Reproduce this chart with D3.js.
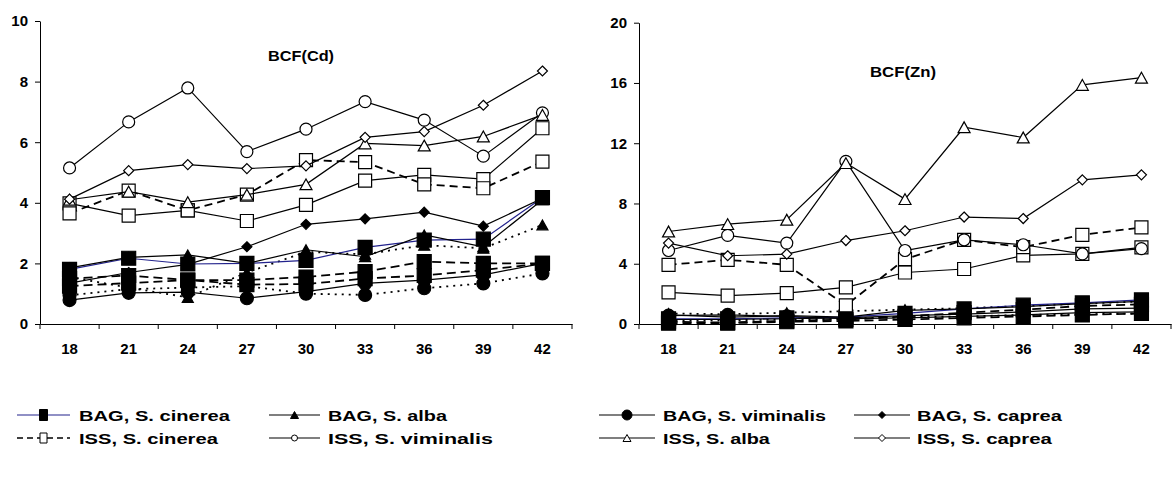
<!DOCTYPE html>
<html>
<head>
<meta charset="utf-8">
<script src="https://cdn.jsdelivr.net/npm/d3@7"></script>
<style>
  body { margin: 0; background: #fff; }
  text { font-family: "Liberation Sans", Arial, sans-serif; font-weight: bold; fill: #000; }
</style>
</head>
<body>
<svg id="chart" width="1172" height="480"></svg>
<script>
// Sampling days (category axis)
const sampleDays = ["18", "21", "24", "27", "30", "33", "36", "39", "42"];
const cdTicks = [0, 2, 4, 6, 8, 10];
const znTicks = [0, 4, 8, 12, 16, 20];

// BCF(Cd)
const cdBagCinerea   = [1.80, 2.17, 1.98, 2.00, 2.10, 2.53, 2.77, 2.80, 4.17];
const cdBagAlba      = [1.85, 2.20, 2.28, 2.00, 2.45, 2.22, 2.94, 2.55, 4.10];
const cdBagViminalis = [0.79, 1.03, 1.05, 0.85, 1.07, 1.34, 1.45, 1.62, 2.00];
const cdBagCaprea    = [1.35, 1.70, 1.97, 2.55, 3.29, 3.47, 3.69, 3.23, 4.15];
const cdIssCinerea   = [3.65, 4.40, 3.75, 4.27, 5.41, 5.34, 4.61, 4.48, 5.36];
const cdIssViminalis = [5.15, 6.67, 7.79, 5.69, 6.43, 7.34, 6.73, 5.54, 6.97];
const cdIssAlba      = [4.10, 4.37, 4.02, 4.27, 4.61, 5.96, 5.89, 6.19, 6.90];
const cdIssCaprea    = [4.12, 5.06, 5.26, 5.13, 5.22, 6.16, 6.35, 7.22, 8.35];
// further series without legend entries
const cdOpenSquareSolid   = [3.98, 3.58, 3.75, 3.40, 3.93, 4.73, 4.92, 4.78, 6.46];
const cdBlackSquareDashA  = [1.50, 1.60, 1.45, 1.45, 1.55, 1.73, 2.06, 2.00, 2.00];
const cdBlackSquareDashB  = [1.25, 1.35, 1.45, 1.30, 1.32, 1.50, 1.60, 1.78, 2.00];
const cdBlackTriDotted    = [1.55, 1.20, 0.88, 1.70, 2.38, 2.30, 2.60, 2.50, 3.27];
const cdBlackCircleDotted = [0.95, 1.15, 1.20, 1.25, 1.00, 0.96, 1.18, 1.34, 1.67];

// BCF(Zn)
const znBagCinerea   = [0.35, 0.35, 0.40, 0.45, 0.70, 1.00, 1.25, 1.40, 1.60];
const znBagAlba      = [0.60, 0.45, 0.55, 0.45, 0.90, 1.00, 1.15, 1.35, 1.50];
const znBagViminalis = [0.55, 0.60, 0.50, 0.35, 0.40, 0.50, 0.60, 0.75, 0.80];
const znBagCaprea    = [0.30, 0.30, 0.35, 0.40, 0.55, 0.65, 0.80, 1.00, 1.05];
const znIssCinerea   = [3.93, 4.26, 3.93, 1.24, 4.30, 5.59, 5.10, 5.92, 6.41];
const znIssViminalis = [4.88, 5.88, 5.37, 10.80, 4.88, 5.59, 5.26, 4.65, 5.00];
const znIssAlba      = [6.14, 6.63, 6.92, 10.68, 8.29, 13.06, 12.38, 15.87, 16.35];
const znIssCaprea    = [5.37, 4.53, 4.64, 5.54, 6.19, 7.10, 7.00, 9.57, 9.90];
const znOpenSquareSolid   = [2.10, 1.88, 2.05, 2.43, 3.42, 3.65, 4.55, 4.66, 5.08];
const znBlackSquareDashA  = [0.15, 0.10, 0.20, 0.30, 0.50, 0.75, 0.95, 1.20, 1.30];
const znBlackSquareDashB  = [0.05, 0.05, 0.15, 0.20, 0.30, 0.40, 0.50, 0.60, 0.70];
const znBlackTriDotted    = [0.70, 0.65, 0.75, 0.85, 0.95, 1.05, 1.20, 1.35, 1.50];
const znBlackCircleDotted = [0.20, 0.25, 0.30, 0.35, 0.45, 0.50, 0.60, 0.65, 0.70];

const legendLabels = [
  "BAG, S. cinerea", "BAG, S. alba", "BAG, S. viminalis", "BAG, S. caprea",
  "ISS, S. cinerea", "ISS, S. viminalis", "ISS, S. alba", "ISS, S. caprea"
];

// ---- styles ----
const NAVY = "#22228c";
const style = {
  bagCinerea:   { stroke: NAVY,   width: 1.2, dash: null,  marker: "square",   fill: "#000", size: 14, lsize: [8, 11] },
  bagAlba:      { stroke: "#000", width: 1.2, dash: null,  marker: "triangle", fill: "#000", size: 11, lsize: [8, 7] },
  bagViminalis: { stroke: "#000", width: 1.2, dash: null,  marker: "circle",   fill: "#000", size: 13, lsize: [10, 10] },
  bagCaprea:    { stroke: "#000", width: 1.2, dash: null,  marker: "diamond",  fill: "#000", size: 10, lsize: [7, 7] },
  issCinerea:   { stroke: "#000", width: 1.8, dash: "8,5", marker: "square",   fill: "#fff", size: 13, lsize: [7, 10] },
  issViminalis: { stroke: "#000", width: 1.2, dash: null,  marker: "circle",   fill: "#fff", size: 12, lsize: [6, 6] },
  issAlba:      { stroke: "#000", width: 1.2, dash: null,  marker: "triangle", fill: "#fff", size: 12, lsize: [8, 7] },
  issCaprea:    { stroke: "#000", width: 1.2, dash: null,  marker: "diamond",  fill: "#fff", size: 10, lsize: [7, 7] },
  openSqSolid:  { stroke: "#000", width: 1.2, dash: null,  marker: "square",   fill: "#fff", size: 13 },
  blkSqDashA:   { stroke: "#000", width: 1.8, dash: "9,5", marker: "square",   fill: "#000", size: 14 },
  blkSqDashB:   { stroke: "#000", width: 1.8, dash: "9,5", marker: "square",   fill: "#000", size: 14 },
  blkTriDot:    { stroke: "#000", width: 1.8, dash: "2,5", marker: "triangle", fill: "#000", size: 11 },
  blkCircDot:   { stroke: "#000", width: 1.8, dash: "2,5", marker: "circle",   fill: "#000", size: 13 }
};

const panels = [
  {
    title: "BCF(Cd)", titleX: 301, titleY: 61,
    x0: 40, x1: 572, yTop: 21, yBottom: 324, ticks: cdTicks, max: 10,
    series: [
      [cdOpenSquareSolid, "openSqSolid"], [cdBlackSquareDashA, "blkSqDashA"], [cdBlackSquareDashB, "blkSqDashB"],
      [cdBlackTriDotted, "blkTriDot"], [cdBlackCircleDotted, "blkCircDot"],
      [cdBagCinerea, "bagCinerea"], [cdBagAlba, "bagAlba"], [cdBagViminalis, "bagViminalis"], [cdBagCaprea, "bagCaprea"],
      [cdIssCinerea, "issCinerea"], [cdIssViminalis, "issViminalis"], [cdIssAlba, "issAlba"], [cdIssCaprea, "issCaprea"]
    ]
  },
  {
    title: "BCF(Zn)", titleX: 903, titleY: 77,
    x0: 639, x1: 1171, yTop: 22.7, yBottom: 324, ticks: znTicks, max: 20,
    series: [
      [znOpenSquareSolid, "openSqSolid"], [znBlackSquareDashA, "blkSqDashA"], [znBlackSquareDashB, "blkSqDashB"],
      [znBlackTriDotted, "blkTriDot"], [znBlackCircleDotted, "blkCircDot"],
      [znBagCinerea, "bagCinerea"], [znBagAlba, "bagAlba"], [znBagViminalis, "bagViminalis"], [znBagCaprea, "bagCaprea"],
      [znIssCinerea, "issCinerea"], [znIssViminalis, "issViminalis"], [znIssAlba, "issAlba"], [znIssCaprea, "issCaprea"]
    ]
  }
];

const svg = d3.select("#chart");
const FONT = "'Liberation Sans', Arial, sans-serif";

// marker path centred at origin, w x h box
function markerPath(kind, w, h) {
  if (kind === "square") return `M${-w/2},${-h/2}h${w}v${h}h${-w}Z`;
  if (kind === "diamond") return `M0,${-h/2}L${w/2},0L0,${h/2}L${-w/2},0Z`;
  if (kind === "triangle") return `M0,${-h/2}L${w/2},${h/2}L${-w/2},${h/2}Z`;
  return `M${-w/2},0a${w/2},${h/2} 0 1,0 ${w},0a${w/2},${h/2} 0 1,0 ${-w},0Z`;
}
function markerDims(st) {
  const s = st.size;
  if (st.marker === "triangle") return [s, s * 0.9];
  return [s, s];
}

panels.forEach(p => {
  const x = d3.scaleBand().domain(sampleDays).range([p.x0, p.x1]).padding(0);
  const y = d3.scaleLinear().domain([0, p.max]).range([p.yBottom, p.yTop]);
  const g = svg.append("g");

  // y axis
  const yAxis = g.append("g").attr("transform", `translate(${p.x0},0)`)
    .call(d3.axisLeft(y).tickValues(p.ticks).tickSize(5).tickSizeOuter(0).tickPadding(7));
  yAxis.selectAll("text").style("font-size", "15px").style("font-family", FONT).style("font-weight", "bold").attr("fill", "#000");
  yAxis.selectAll("line, path").attr("stroke", "#000").attr("stroke-width", 1);

  // x axis: labels centred on categories, ticks on category boundaries
  const xAxis = g.append("g").attr("transform", `translate(0,${p.yBottom})`)
    .call(d3.axisBottom(x).tickSize(0).tickPadding(19));
  xAxis.selectAll("text").style("font-size", "15px").style("font-family", FONT).style("font-weight", "bold").attr("fill", "#000");
  xAxis.select(".domain").attr("stroke", "#000").attr("stroke-width", 1);
  const bounds = sampleDays.map(d => x(d)).concat([x(sampleDays[sampleDays.length - 1]) + x.bandwidth()]);
  g.append("g").selectAll("line").data(bounds).join("line")
    .attr("x1", d => d).attr("x2", d => d)
    .attr("y1", p.yBottom).attr("y2", p.yBottom + 5)
    .attr("stroke", "#000").attr("stroke-width", 1);

  // title
  g.append("text").attr("x", p.titleX).attr("y", p.titleY)
    .attr("text-anchor", "middle").style("font-size", "15.5px")
    .attr("textLength", 66).attr("lengthAdjust", "spacingAndGlyphs")
    .text(p.title);

  const line = d3.line().x((d, i) => x(sampleDays[i]) + x.bandwidth() / 2).y(d => y(d));

  p.series.forEach(([vals, key]) => {
    const st = style[key];
    g.append("path").datum(vals)
      .attr("d", line).attr("fill", "none")
      .attr("stroke", st.stroke).attr("stroke-width", st.width)
      .attr("stroke-dasharray", st.dash);
    const [w, h] = markerDims(st);
    g.append("g").selectAll("path").data(vals).join("path")
      .attr("transform", (d, i) => `translate(${x(sampleDays[i]) + x.bandwidth() / 2},${y(d)})`)
      .attr("d", markerPath(st.marker, w, h))
      .attr("fill", st.fill).attr("stroke", "#000").attr("stroke-width", 1.2);
  });
});

// legend
const legendKeys = ["bagCinerea", "bagAlba", "bagViminalis", "bagCaprea", "issCinerea", "issViminalis", "issAlba", "issCaprea"];
const legendCols = [[17, 70, 79], [269, 320, 328], [599, 655, 663], [854, 910, 917]];
const legendRows = [415, 438];
const legendWidths = [151, 119, 163, 145, 139, 165, 107, 135];

const lg = svg.append("g");
legendKeys.forEach((key, i) => {
  const st = style[key];
  const [lx0, lx1, tx] = legendCols[i % 4];
  const ly = legendRows[Math.floor(i / 4)];
  lg.append("line").attr("x1", lx0).attr("x2", lx1).attr("y1", ly).attr("y2", ly)
    .attr("stroke", st.stroke).attr("stroke-width", key === "issCinerea" ? 1.3 : 1.2)
    .attr("stroke-dasharray", key === "issCinerea" ? "6,4" : null);
  const [w, h] = st.lsize;
  lg.append("path").attr("transform", `translate(${(lx0 + lx1) / 2},${ly})`)
    .attr("d", markerPath(st.marker, w, h))
    .attr("fill", st.fill).attr("stroke", "#000").attr("stroke-width", 1);
  // wide legend lettering: stretch each label horizontally to its width
  const t = lg.append("text").attr("x", 0).attr("y", 0)
    .style("font-size", "15.5px")
    .text(legendLabels[i]);
  const natural = t.node().getComputedTextLength();
  const sx = legendWidths[i] / natural;
  t.attr("transform", `translate(${tx},${ly + 5.5}) scale(${sx},1)`);
});
</script>
</body>
</html>
